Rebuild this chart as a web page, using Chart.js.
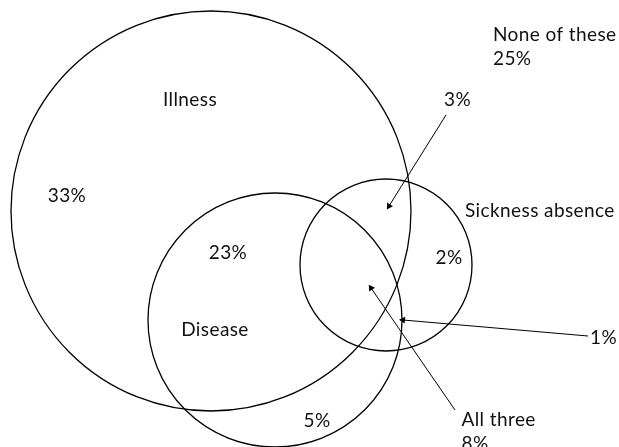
<!DOCTYPE html>
<html>
<head>
<meta charset="utf-8">
<script src="https://cdn.jsdelivr.net/npm/chart.js@4"></script>
<style>
  html, body { margin: 0; padding: 0; background: #fff; }
  canvas { display: block; }
</style>
</head>
<body>
<canvas id="venn" width="619" height="447"></canvas>
<script>
// Sets (circle centre and radius in plot units, 1 unit = 1 px)
const setNames = ['Illness', 'Disease', 'Sickness absence'];
const setCx = [211, 275, 386];
const setCy = [211, 320, 265];
const setR = [200, 127, 86];

// Region shares
const regionLabels = ['33%', '23%', '5%', '2%', '3%', '1%', '8%', '25%'];

// Text labels (x, baseline y)
const labelTexts = ['Illness', '33%', '23%', 'Disease', '5%', '2%', 'Sickness absence', '3%', '1%', 'All three', '8%', 'None of these', '25%'];
const labelX = [190, 67, 228, 215, 317, 449, 465, 457.5, 590, 461.5, 461.5, 493, 493];
const labelY = [105.5, 201.5, 259, 335.5, 427, 264, 216.5, 105.5, 344, 426, 450, 40.5, 64.5];
const labelAlign = ['center', 'center', 'center', 'center', 'center', 'center', 'left', 'center', 'left', 'left', 'left', 'left', 'left'];

// Callout arrows: start (label end) -> tip
const arrowFromX = [446, 588, 455];
const arrowFromY = [115, 336, 410];
const arrowToX = [389, 403, 371];
const arrowToY = [206, 320, 288];

document.addEventListener('DOMContentLoaded', function() {
    const ctx = document.getElementById('venn').getContext('2d');

    const circleData = setNames.map((name, i) => ({ x: setCx[i], y: setCy[i], r: setR[i] }));

    const arrowSets = arrowFromX.map((fx, i) => {
        const dx = arrowToX[i] - fx;
        const dy = arrowToY[i] - arrowFromY[i];
        // triangle points up at rotation 0; y axis grows downward in pixels
        const angle = Math.atan2(dx, -dy) * 180 / Math.PI;
        return {
            type: 'line',
            data: [{ x: fx, y: arrowFromY[i] }, { x: arrowToX[i], y: arrowToY[i] }],
            borderColor: '#000',
            borderWidth: 1,
            pointRadius: [0, 4],
            pointStyle: 'triangle',
            rotation: angle,
            pointBackgroundColor: '#000',
            pointBorderColor: '#000',
            pointBorderWidth: 0,
            clip: false
        };
    });

    const labelPlugin = {
        id: 'vennLabels',
        afterDatasetsDraw(chart) {
            const c = chart.ctx;
            const xs = chart.scales.x, ys = chart.scales.y;
            c.save();
            c.fillStyle = '#111';
            c.font = '19px Lato, "Noto Sans", sans-serif';
            c.letterSpacing = '0.4px';
            c.textBaseline = 'alphabetic';
            labelTexts.forEach((t, i) => {
                c.textAlign = labelAlign[i];
                c.fillText(t, xs.getPixelForValue(labelX[i]), ys.getPixelForValue(labelY[i]));
            });
            c.restore();
        }
    };

    new Chart(ctx, {
        type: 'bubble',
        data: {
            datasets: [{
                label: 'Sets',
                data: circleData,
                backgroundColor: 'rgba(0,0,0,0)',
                borderColor: '#000',
                borderWidth: 1.3,
                clip: false
            }, ...arrowSets]
        },
        options: {
            responsive: false,
            animation: false,
            layout: { padding: 0, autoPadding: false },
            plugins: {
                legend: { display: false },
                tooltip: { enabled: false }
            },
            scales: {
                x: { type: 'linear', min: 0, max: 619, display: false },
                y: { type: 'linear', min: 0, max: 447, reverse: true, display: false }
            }
        },
        plugins: [labelPlugin]
    });
});
</script>
</body>
</html>
